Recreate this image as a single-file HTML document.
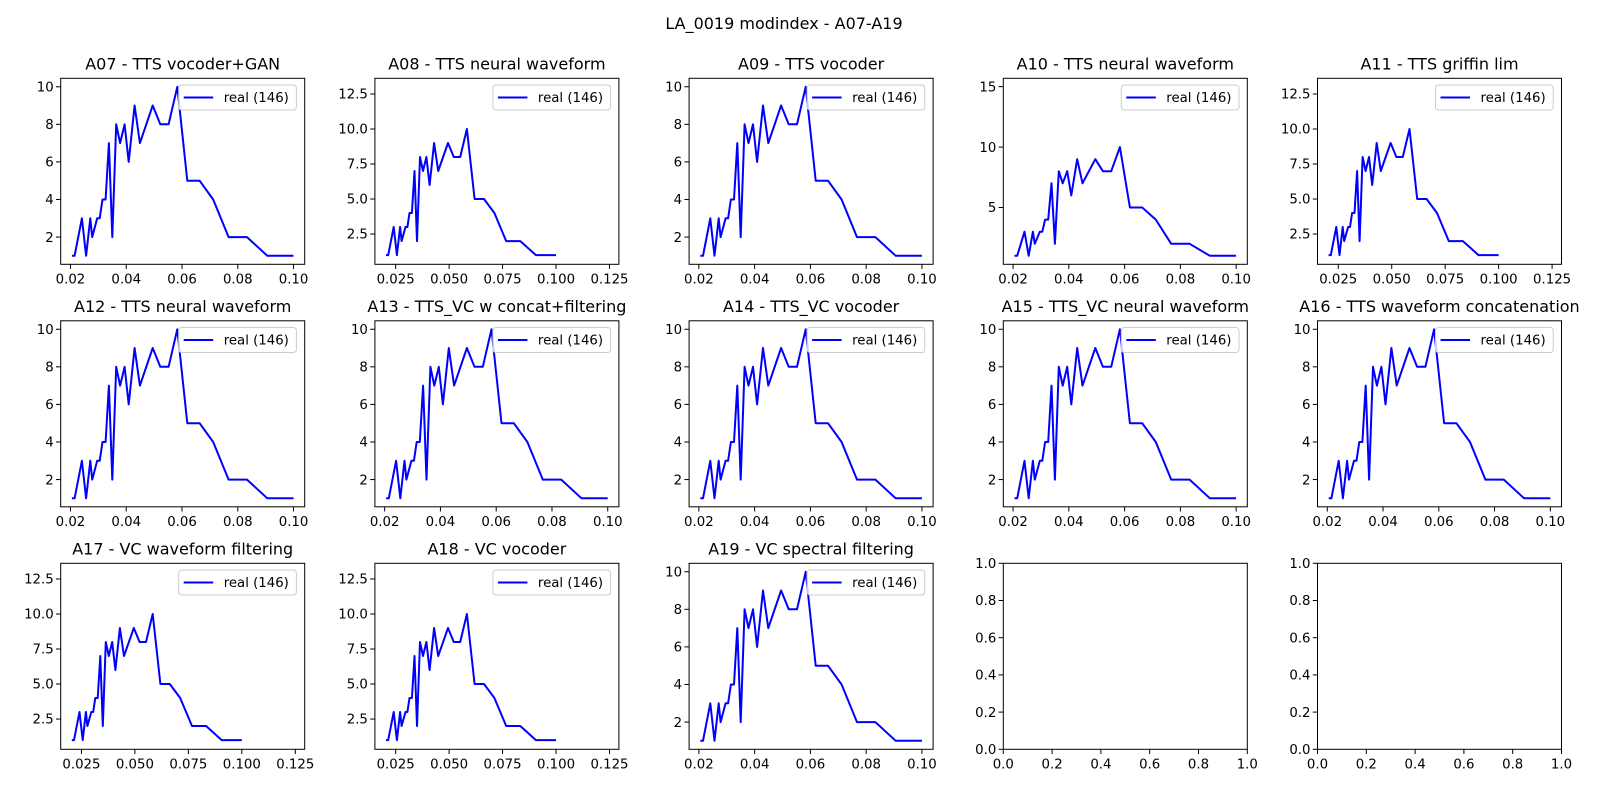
<!DOCTYPE html>
<html><head><meta charset="utf-8"><style>
body{margin:0;background:#fff;}
svg text{font-family:"DejaVu Sans","Liberation Sans",sans-serif;fill:#000;}
</style></head><body>
<svg id="fig" width="1600" height="800" xmlns="http://www.w3.org/2000/svg">
<rect width="1600" height="800" fill="#fff"/>
<text x="784" y="29" font-size="16" text-anchor="middle">LA_0019 modindex - A07-A19</text>
</svg>
<script>
const xs = [0.0205,0.0215,0.0241,0.0256,0.0271,0.0278,0.0296,0.0305,0.0315,0.0326,0.0338,0.0350,0.0364,0.0378,0.0394,0.0409,0.0430,0.0449,0.0495,0.0522,0.0552,0.0583,0.0619,0.0663,0.0712,0.0767,0.0833,0.0906,0.1000];
const ys = [1,1,3,1,3,2,3,3,4,4,7,2,8,7,8,6,9,7,9,8,8,10,5,5,4,2,2,1,1];
const titles = ["A07 - TTS vocoder+GAN","A08 - TTS neural waveform","A09 - TTS vocoder","A10 - TTS neural waveform","A11 - TTS griffin lim","A12 - TTS neural waveform","A13 - TTS_VC w concat+filtering","A14 - TTS_VC vocoder","A15 - TTS_VC neural waveform","A16 - TTS waveform concatenation","A17 - VC waveform filtering","A18 - VC vocoder","A19 - VC spectral filtering"];
const kinds = ["A","B","A","C","B","A","A","A","A","A","B","B","A","E","E"];
const ticksA_x = [0.02,0.04,0.06,0.08,0.10];
const ticksA_y = [2,4,6,8,10];
const ticksB_x = [0.025,0.050,0.075,0.100,0.125];
const ticksB_y = [2.5,5.0,7.5,10.0,12.5];
const ticksC_y = [5,10,15];
const ticksE = [0.0,0.2,0.4,0.6,0.8,1.0];

const NS="http://www.w3.org/2000/svg";
const svg=document.getElementById('fig');
function mk(tag,attrs,parent){const e=document.createElementNS(NS,tag);for(const k in attrs)e.setAttribute(k,attrs[k]);(parent||svg).appendChild(e);return e;}
const W=244,H=186;
const lefts=[60.7,374.9,689.1,1003.3,1317.5];
const tops=[78.3,320.8,563.3];
for(let i=0;i<15;i++){
  const k=kinds[i];
  const L=lefts[i%5],T=tops[Math.floor(i/5)];
  let xl,yl,tx,ty,fx,fy;
  if(k==="A"){xl=[0.0165,0.1040];yl=[0.55,10.45];tx=ticksA_x;ty=ticksA_y;fx=v=>v.toFixed(2);fy=v=>String(v);}
  else if(k==="B"){xl=[0.0153,0.1294];yl=[0.34,13.62];tx=ticksB_x;ty=ticksB_y;fx=v=>v.toFixed(3);fy=v=>v.toFixed(1);}
  else if(k==="C"){xl=[0.0165,0.1040];yl=[0.30,15.69];tx=ticksA_x;ty=ticksC_y;fx=v=>v.toFixed(2);fy=v=>String(v);}
  else {xl=[0,1];yl=[0,1];tx=ticksE;ty=ticksE;fx=v=>v.toFixed(1);fy=v=>v.toFixed(1);}
  const X=v=>L+(v-xl[0])/(xl[1]-xl[0])*W;
  const Y=v=>T+H-(v-yl[0])/(yl[1]-yl[0])*H;
  const g=mk('g',{});
  
  
  if(i<13){
    const t=mk('text',{x:L+W/2,y:T-9,'font-size':16,'text-anchor':'middle'},g);
    t.textContent=titles[i];
    
    
  }
  tx.forEach(v=>{
    const x=X(v);
    const tl=mk('line',{x1:x,x2:x,y1:T+H,y2:T+H+4.7,stroke:'#000','stroke-width':1},g);
    
    
    const t=mk('text',{x:x,y:T+H+19,'font-size':13.3,'text-anchor':'middle'},g);
    t.textContent=fx(v);
    
    
  });
  ty.forEach(v=>{
    const y=Y(v);
    const tl=mk('line',{x1:L-4.7,x2:L,y1:y,y2:y,stroke:'#000','stroke-width':1},g);
    
    
    const t=mk('text',{x:L-7,y:y+4.7,'font-size':13.3,'text-anchor':'end'},g);
    t.textContent=fy(v);
    
    
  });
  if(i<13){
    const pts=xs.map((x,j)=>X(x).toFixed(1)+','+Y(ys[j]).toFixed(1)).join(' ');
    const pl=mk('polyline',{points:pts,fill:'none',stroke:'#0000ff','stroke-width':2,'stroke-linejoin':'round'},g);
    
    
    const lg=mk('g',{},g);
    
    
    const lx=L+W-126,ly=T+6.7;
    mk('rect',{x:lx,y:ly,width:117.7,height:25,rx:3,fill:'#fff','fill-opacity':0.8,stroke:'#ccc','stroke-width':1},lg);
    mk('line',{x1:lx+5,x2:lx+34.5,y1:ly+12.5,y2:ly+12.5,stroke:'#0000ff','stroke-width':2},lg);
    const lt=mk('text',{x:lx+45,y:ly+17,'font-size':13.3},lg);
    lt.textContent='real (146)';
    
    
  }
  const fr=mk('rect',{x:L,y:T,width:W,height:H,fill:'none',stroke:'#000','stroke-width':1},g);
  
  
}
</script>
</body></html>
